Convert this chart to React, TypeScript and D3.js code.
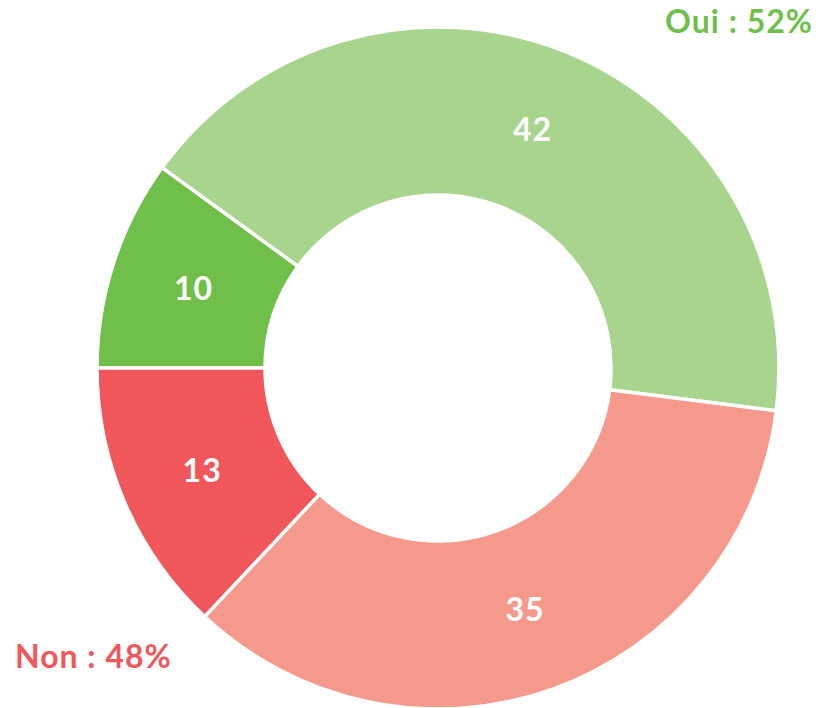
import React, { useRef, useEffect } from "react";
import * as d3 from "d3";

// slices, clockwise from 9 o'clock
const labels = ["Oui +", "Oui", "Non", "Non +"];
const values = [10, 42, 35, 13];
const colors = ["#70BF4B", "#A9D48E", "#F5998D", "#F0565A"];

const legendTexts = ["Oui : 52%", "Non : 48%"];
const legendColors = ["#70BF4B", "#F0565A"];

const W = 821;
const H = 708;
const FONT = "Lato, 'Open Sans', sans-serif";

const App = () => {
  const svgRef = useRef<SVGSVGElement>(null);

  useEffect(() => {
    const svg = d3.select(svgRef.current);
    svg.selectAll("*").remove();

    const cx = 438;
    const cy = 368;
    const outer = 341;
    const inner = 173;

    const pie = d3.pie<number>()
      .sort(null)
      .startAngle(-Math.PI / 2)
      .endAngle(1.5 * Math.PI);

    const arc = d3.arc<d3.PieArcDatum<number>>()
      .innerRadius(inner)
      .outerRadius(outer);

    const arcs = pie(values);

    const g = svg.append("g").attr("transform", `translate(${cx},${cy})`);

    g.selectAll("path")
      .data(arcs)
      .join("path")
      .attr("d", arc)
      .attr("fill", (d, i) => colors[i])
      .attr("stroke", "#ffffff")
      .attr("stroke-width", 3.5);

    g.selectAll("text")
      .data(arcs)
      .join("text")
      .attr("transform", d => `translate(${arc.centroid(d)})`)
      .attr("text-anchor", "middle")
      .attr("dy", "0.36em")
      .attr("font-family", FONT)
      .attr("font-weight", "bold")
      .attr("font-size", "32px")
      .attr("letter-spacing", "1px")
      .attr("fill", "#ffffff")
      .text(d => d.data);

    // category totals
    svg.append("text")
      .attr("x", 813)
      .attr("y", 33)
      .attr("text-anchor", "end")
      .attr("font-family", FONT)
      .attr("font-weight", "bold")
      .attr("font-size", "32px")
      .attr("letter-spacing", "1px")
      .attr("fill", legendColors[0])
      .text(legendTexts[0]);

    svg.append("text")
      .attr("x", 15)
      .attr("y", 668)
      .attr("text-anchor", "start")
      .attr("font-family", FONT)
      .attr("font-weight", "bold")
      .attr("font-size", "32px")
      .attr("letter-spacing", "1px")
      .attr("fill", legendColors[1])
      .text(legendTexts[1]);
  }, []);

  return (
    <svg
      ref={svgRef}
      width={W}
      height={H}
      style={{ position: "absolute", left: 0, top: 0, background: "#ffffff" }}
    />
  );
};

export default App;
